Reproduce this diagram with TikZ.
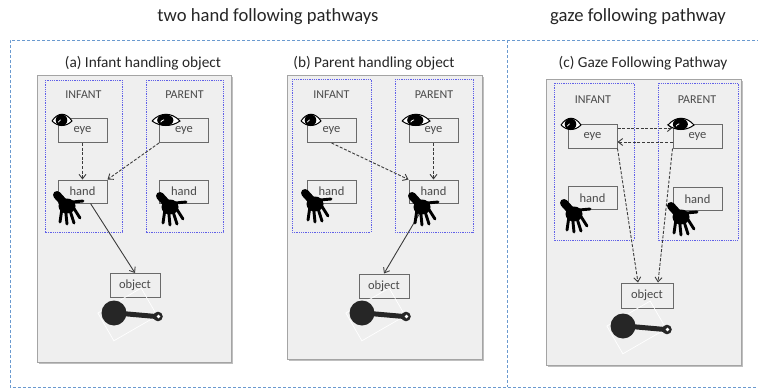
\documentclass[tikz,border=0pt]{standalone}
\usepackage{fontspec}
\setmainfont{Carlito}
\usetikzlibrary{arrows.meta}
\definecolor{outerblue}{HTML}{6A9AD0}
\definecolor{personblue}{HTML}{6060E8}
\definecolor{panelfill}{HTML}{EFEFEF}
\definecolor{panelline}{HTML}{A4A4A4}
\definecolor{boxline}{HTML}{6A6A6A}
\definecolor{txtgray}{HTML}{4A4A4A}
\definecolor{ink}{HTML}{262626}
\definecolor{arrowgray}{HTML}{3C3C3C}
\tikzset{
  outerline/.style={draw=outerblue, line width=0.8pt, dash pattern=on 3pt off 2pt},
  panel/.style={draw=panelline, fill=panelfill, line width=0.9pt},
  panelshadow/.style={fill=panelline!70},
  person/.style={draw=personblue, line width=0.7pt, dash pattern=on 1pt off 0.8pt},
  statebox/.style={draw=boxline, fill=panelfill, line width=1pt, minimum width=49pt, minimum height=24pt, inner sep=0pt, text=txtgray, font=\fontsize{12.5}{14}\selectfont},
  objbox/.style={statebox, minimum width=50pt},
  who/.style={text=txtgray, font=\fontsize{12}{14}\selectfont},
  paneltitle/.style={text=ink, font=\fontsize{15.3}{18}\selectfont},
  toptitle/.style={text=ink, font=\fontsize{18.6}{22}\selectfont},
  dasharrow/.style={draw=arrowgray, line width=0.9pt, dash pattern=on 3pt off 1.6pt, -{Straight Barb[length=4.5pt,width=7pt]}},
  solidarrow/.style={draw=arrowgray, line width=0.9pt, -{Straight Barb[length=4.5pt,width=7pt]}},
  eyeicon/.pic={
    \filldraw[fill=white, draw=black, line width=1pt] (-10,0) .. controls (-4,-9) and (4,-9) .. (10,0) .. controls (4,6) and (-4,6) .. (-10,0);
    \fill[black] (-0.5,-0.8) circle (5.8);
    \draw[white, line width=0.8pt] (-3.8,1.2) arc (200:250:4);
  },
  handicon/.pic={
    \draw[black, line width=8pt, line cap=round] (0,0) -- (-10,-11);
    \fill[black] (0,0) ellipse (8.5 and 7.5);
    \draw[black, line width=2.9pt, line cap=round]
      (-5,2) -- (-7,16)
      (-1.5,3) -- (0,18)
      (2.5,3) -- (7,17)
      (6,1) -- (13,12)
      (5,-4) -- (16,-5);
  },
  rattleicon/.pic={
    \draw[white, line width=0.7pt, rotate=30] (-14,-8) rectangle (36,24);
    \fill[ink] (0,0) circle (12.5);
    \draw[ink, line width=5pt] (8,0.5) -- (42,3.5);
    \fill[ink] (44,3.5) circle (4.8);
    \fill[white] (44.5,3.5) circle (1.8);
  }
}
\begin{document}
\begin{tikzpicture}[x=1pt,y=-1pt]
\useasboundingbox (0,0) rectangle (758,391);
\fill[white] (0,0) rectangle (758,391);

% top titles
\node[toptitle] (ttwo) at (268,17) {two hand following pathways};
\node[toptitle] (tgaze) at (638,17) {gaze following pathway};

% outer dashed frame
\draw[outerline] (760,40) -- (10,40) -- (10,387) -- (760,387);
\draw[outerline] (507,40) -- (507,387);

% ===== panel (a)
\fill[panelshadow] (38.5,76.5) rectangle (232.5,363.5);
\draw[panel] (37,75) rectangle (231,362);
\node[paneltitle] (ta) at (143,63) {(a) Infant handling object};
\draw[person] (45,80) rectangle (122,232);
\draw[person] (146,80) rectangle (223,232);
\node[who] (ainf) at (83.5,95) {INFANT};
\node[who] (apar) at (184.5,95) {PARENT};
\node[statebox] (iaeye) at (82.5,130.5) {eye};
\node[statebox] (paeye) at (184,130.5) {eye};
\node[statebox, minimum height=23pt] (iahand) at (82.5,191.5) {hand};
\node[statebox, minimum height=23pt] (pahand) at (184,191.5) {hand};
\node[objbox] (aobj) at (135,285.5) {object};
\draw[dasharrow] (iaeye.south) -- (iahand.north);
\draw[dasharrow] (paeye.south west) -- (iahand.north east);
\draw[solidarrow] ([xshift=8pt]iahand.south) -- (aobj.north);
\pic at (62,121) {eyeicon};
\pic[xscale=1.4] at (166,121) {eyeicon};
\pic at (67,206) {handicon};
\pic at (170,207) {handicon};
\pic at (114,313) {rattleicon};

% ===== panel (b)
\fill[panelshadow] (288.5,76.5) rectangle (483.5,360.5);
\draw[panel] (287,75) rectangle (482,359);
\node[paneltitle] (tb) at (374,63) {(b) Parent handling object};
\draw[person] (292,79) rectangle (371,232);
\draw[person] (395,79) rectangle (473,232);
\node[who] (binf) at (331.5,95) {INFANT};
\node[who] (bpar) at (434,95) {PARENT};
\node[statebox] (ibeye) at (331.5,130.5) {eye};
\node[statebox] (pbeye) at (433.5,130.5) {eye};
\node[statebox, minimum height=23pt] (ibhand) at (331.5,191.5) {hand};
\node[statebox, minimum height=23pt] (pbhand) at (433.5,191.5) {hand};
\node[objbox] (bobj) at (384,286) {object};
\draw[dasharrow] (ibeye.south) -- (pbhand.north west);
\draw[dasharrow] (pbeye.south) -- (pbhand.north);
\draw[solidarrow] ([xshift=-8pt]pbhand.south) -- (bobj.north);
\pic at (311,121) {eyeicon};
\pic[xscale=1.4] at (416,121) {eyeicon};
\pic at (315,204) {handicon};
\pic at (422,207) {handicon};
\pic at (362,313) {rattleicon};

% ===== panel (c)
\fill[panelshadow] (547.5,80.5) rectangle (742.5,366.5);
\draw[panel] (546,79) rectangle (741,365);
\node[paneltitle] (tc) at (643,63) {(c) Gaze Following Pathway};
\draw[person] (554,83) rectangle (634,240);
\draw[person] (658,83) rectangle (738,240);
\node[who] (cinf) at (593,100) {INFANT};
\node[who] (cpar) at (697,100) {PARENT};
\node[statebox] (iceye) at (592.5,136) {eye};
\node[statebox] (pceye) at (697.5,136) {eye};
\node[statebox, minimum height=23pt] (ichand) at (592.5,198) {hand};
\node[statebox, minimum height=23pt] (pchand) at (697.5,199) {hand};
\node[objbox, minimum width=52pt, minimum height=25pt] (cobj) at (647,295.5) {object};
\draw[dasharrow] ([yshift=8pt]iceye.east) -- ([yshift=8pt]pceye.west);
\draw[dasharrow] ([yshift=-6pt]pceye.west) -- ([yshift=-6pt]iceye.east);
\draw[dasharrow] (iceye.south east) -- ([xshift=-9pt]cobj.north);
\draw[dasharrow] (pceye.south west) -- ([xshift=11pt]cobj.north);
\pic at (571,125) {eyeicon};
\pic[xscale=1.3] at (681,125) {eyeicon};
\pic at (574,214) {handicon};
\pic at (681,217) {handicon};
\pic at (623,326) {rattleicon};
\end{tikzpicture}
\end{document}
